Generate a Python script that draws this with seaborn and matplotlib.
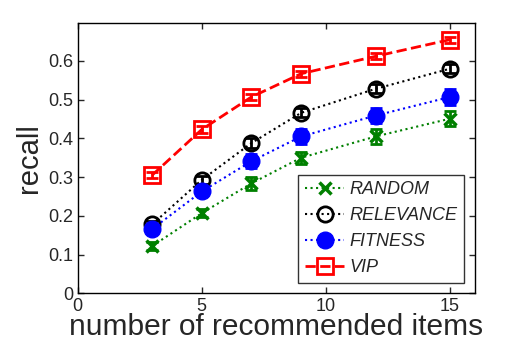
import matplotlib
matplotlib.use("Agg")
import matplotlib.pyplot as plt
import seaborn as sns
import pandas as pd
import numpy as np

x_items = [3, 5, 7, 9, 12, 15]
random_vals = [0.122, 0.207, 0.284, 0.350, 0.405, 0.451]
random_err = [0.010, 0.010, 0.016, 0.016, 0.020, 0.020]
relevance_vals = [0.178, 0.293, 0.388, 0.466, 0.528, 0.580]
relevance_err = [0.010, 0.010, 0.012, 0.012, 0.012, 0.012]
fitness_vals = [0.166, 0.263, 0.341, 0.405, 0.459, 0.507]
fitness_err = [0.010, 0.012, 0.018, 0.020, 0.020, 0.020]
vip_vals = [0.305, 0.423, 0.507, 0.567, 0.612, 0.655]
vip_err = [0.008, 0.008, 0.008, 0.008, 0.008, 0.008]
series_names = ["RANDOM", "RELEVANCE", "FITNESS", "VIP"]
x_ticks = [0, 5, 10, 15]
y_ticks = [0, 0.1, 0.2, 0.3, 0.4, 0.5, 0.6]

sns.set_style("white")
plt.rcParams['font.family'] = ['Liberation Sans', 'DejaVu Sans']

vals = [random_vals, relevance_vals, fitness_vals, vip_vals]
errs = [random_err, relevance_err, fitness_err, vip_err]
df = pd.DataFrame({
    "x": x_items * 4,
    "recall": sum(vals, []),
    "err": sum(errs, []),
    "method": [n for n in series_names for _ in x_items],
})

styles = {
    "RANDOM": dict(color=(0, 0.5, 0), marker="x", ls=":", mfc=(0, 0.5, 0), ms=9, mew=2.5),
    "RELEVANCE": dict(color="black", marker="o", ls=":", mfc="none", ms=11, mew=2),
    "FITNESS": dict(color="blue", marker="o", ls=":", mfc="blue", ms=12, mew=1),
    "VIP": dict(color="red", marker="s", ls="--", mfc="none", ms=11, mew=2),
}

fig = plt.figure(figsize=(5.14, 3.48), dpi=100)
ax = fig.add_axes([0.151, 0.157, 0.773, 0.777])

for name in series_names:
    sub = df[df["method"] == name]
    st = styles[name]
    ax.errorbar(sub["x"], sub["recall"], yerr=sub["err"], fmt="none",
                ecolor=st["color"], elinewidth=2, capsize=4, capthick=2)
    sns.lineplot(data=sub, x="x", y="recall", ax=ax, color=st["color"],
                 linestyle=st["ls"], linewidth=2 if name == "VIP" else 1.5,
                 marker=st["marker"], markersize=st["ms"],
                 markerfacecolor=st["mfc"], markeredgecolor=st["color"],
                 markeredgewidth=st["mew"], label=name, errorbar=None)

ax.set_xlim(0, 16)
ax.set_ylim(0, 0.698)
ax.set_xticks(x_ticks)
ax.set_yticks(y_ticks)
ax.set_xticklabels([str(t) for t in x_ticks])
ax.set_yticklabels(["0"] + [f"{t:.1f}" for t in y_ticks[1:]])
ax.tick_params(axis="both", labelsize=13, direction="in", length=4, width=1,
               bottom=True, left=True, top=True, right=True, pad=3)
for sp in ax.spines.values():
    sp.set_visible(True)
    sp.set_color("black")
    sp.set_linewidth(1)
ax.set_xlabel("number of recommended items", fontsize=21.5, labelpad=-1)
ax.set_ylabel("recall", fontsize=21, labelpad=4)

leg = ax.legend(loc="lower right", prop={"style": "italic", "size": 13},
                frameon=True, fancybox=False, edgecolor="black",
                borderaxespad=0.6, handlelength=2.2, labelspacing=0.5,
                handletextpad=0.3, borderpad=0.35)
leg.get_frame().set_linewidth(1)

fig.savefig("out.png", dpi=100)
